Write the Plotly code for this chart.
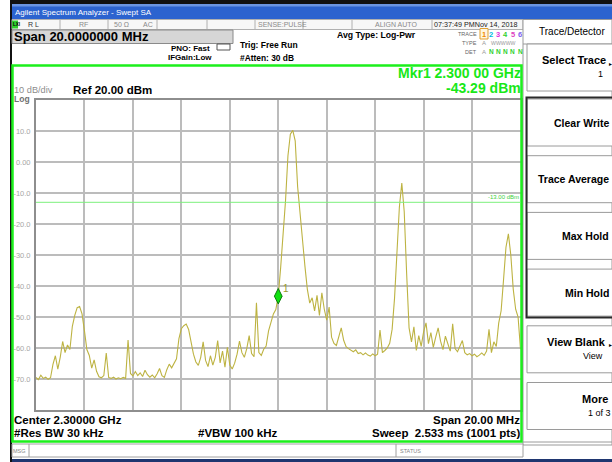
import numpy as np
import plotly.graph_objects as go

# ---- sweep settings ----
center_ghz = 2.300
span_ghz = 0.020
n_points = 201
ref_level = 20.0
db_per_div = 10.0
display_line = -13.0

# ---- trace 1 (dBm), one value per sweep point ----
trace_dbm = [
    -69.5, -70.2, -68.8, -69.8, -69.4, -70.1, -69.6, -65.3, -62.5, -66.8,
    -63.0, -57.9, -61.5, -59.0, -60.5, -53.0, -49.5, -47.0, -46.6, -49.0,
    -54.5, -60.5, -62.4, -66.5, -63.8, -67.5, -69.3, -69.6, -68.9, -61.6,
    -69.5, -69.8, -69.4, -70.0, -69.6, -69.9, -69.5, -69.8, -57.4, -68.2,
    -69.0, -67.6, -68.9, -68.0, -69.2, -67.2, -68.6, -69.4, -68.7, -69.6,
    -68.3, -66.6, -68.9, -69.5, -67.0, -65.2, -66.4, -65.0, -63.5, -57.0,
    -53.8, -52.8, -52.3, -54.0, -58.0, -62.0, -64.5, -65.6, -63.0, -58.0,
    -64.0, -66.0, -62.5, -65.5, -63.0, -57.6, -64.8, -61.0, -66.2, -59.8,
    -65.5, -66.8, -64.9, -62.0, -57.8, -61.5, -63.0, -60.2, -56.0, -61.8,
    -62.8, -45.4, -61.5, -62.4, -60.4, -59.4, -54.5, -51.5, -49.0, -47.6,
    -43.29, -34.0, -23.0, -12.5, 2.0, 9.0, 10.2, 6.8, -8.0, -17.0,
    -26.0, -33.5, -41.0, -45.5, -43.8, -48.0, -43.0, -49.5, -42.2, -47.5,
    -51.0, -46.8, -56.5, -58.5, -59.2, -56.0, -53.5, -57.5, -59.6, -60.2,
    -60.8, -61.2, -60.6, -61.8, -61.5, -62.2, -61.6, -62.3, -62.6, -61.9,
    -62.5, -62.0, -54.2, -61.5, -60.8, -60.0, -58.5, -54.0, -44.0, -30.0,
    -14.5, -6.8, -16.0, -36.0, -53.5, -58.0, -53.2, -60.8, -56.0, -59.5,
    -54.8, -51.9, -58.6, -55.0, -59.8, -56.5, -53.5, -57.8, -60.5, -56.2,
    -59.0, -61.0, -52.2, -60.2, -61.2, -59.4, -57.6, -61.5, -62.2, -61.8,
    -62.5, -62.0, -62.8, -62.3, -61.6, -62.4, -61.0, -54.0, -61.5, -58.0,
    -59.5, -52.0, -48.0, -38.0, -27.5, -23.2, -30.0, -41.0, -47.5, -50.0,
    -60.4,
]

# ---- marker 1 ----
mkr_freq_ghz = 2.300
mkr_dbm = -43.29

# ---- y-axis labels ----
y_tick_vals = [10, 0, -10, -20, -30, -40, -50, -60, -70]
y_tick_text = ["10.0", "0.00", "-10.0", "-20.0", "-30.0", "-40.0", "-50.0", "-60.0", "-70.0"]

# ---- soft keys ----
softkeys = ["Select Trace", "Clear Write", "Trace Average", "Max Hold", "Min Hold", "View Blank", "More"]
softkey_sub = ["1", "", "", "", "", "View", "1 of 3"]

W, H = 612, 462
SANS = "Liberation Sans, Arial, sans-serif"

f_start = center_ghz - span_ghz / 2
f_stop = center_ghz + span_ghz / 2
freqs = f_start + np.arange(n_points) * (span_ghz / (n_points - 1))

# plot window in pixels
PL, PR, PT, PB = 36, 520.5, 100, 410


def px(x):
    return x / W


def py(y):
    return 1 - y / H


shapes = []
annotations = []


def rect(x0, y0, x1, y1, fill=None, line=None, lw=1, layer="below"):
    shapes.append(dict(type="rect", xref="paper", yref="paper",
                       x0=px(x0), x1=px(x1), y0=py(y0), y1=py(y1),
                       fillcolor=fill if fill else "rgba(0,0,0,0)",
                       line=dict(color=line if line else "rgba(0,0,0,0)", width=lw if line else 0),
                       layer=layer))


def hline(x0, x1, y, color, lw=1, layer="above"):
    shapes.append(dict(type="line", xref="paper", yref="paper", x0=px(x0), x1=px(x1),
                       y0=py(y), y1=py(y), line=dict(color=color, width=lw), layer=layer))


def vline(x, y0, y1, color, lw=1, layer="above"):
    shapes.append(dict(type="line", xref="paper", yref="paper", x0=px(x), x1=px(x),
                       y0=py(y0), y1=py(y1), line=dict(color=color, width=lw), layer=layer))


def txt(x, y, s, size, color="#000000", bold=False, anchor="left"):
    annotations.append(dict(xref="paper", yref="paper", x=px(x), y=py(y),
                            text=("<b>%s</b>" % s) if bold else s, showarrow=False,
                            xanchor=anchor, yanchor="middle", borderpad=0,
                            font=dict(size=size, color=color, family=SANS)))


# window chrome
rect(10, 0, 612, 4, fill="#111111")
rect(10, 0, 12, 462, fill="#111111")
rect(12, 4, 612, 19, fill="#2c63cf")
rect(12, 4, 612, 6.5, fill="#6b95e2")
txt(14, 12, "Agilent Spectrum Analyzer - Swept SA", 8, color="#ffffff")
rect(12, 459, 612, 462, fill="#1f3670")

# status row
rect(12, 19.5, 612, 29.5, fill="#f7f7f7", line="#b0b0b0", lw=1)
for xd in [60, 108, 157, 207, 255, 303, 352, 432, 523]:
    vline(xd, 19.5, 29.5, "#b0b0b0", 1, layer="below")
rect(12, 20.5, 18, 28.5, fill="#2fd02f")
txt(11.5, 24.5, "LXI", 4.5, color="#000000", bold=True)
txt(27, 24.5, "R L", 7, color="#333333")
txt(83, 24.5, "RF", 7, color="#8a8a8a", anchor="center")
txt(113, 24.5, "50 Ω", 7, color="#8a8a8a")
txt(142, 24.5, "AC", 7, color="#8a8a8a")
txt(257, 24.5, "SENSE:PULSE", 7, color="#8a8a8a")
txt(374, 24.5, "ALIGN AUTO", 7, color="#8a8a8a")
txt(433, 24.5, "07:37:49 PMNov 14, 2018", 7.2, color="#222222")

# span readout box
rect(12, 30, 233, 43.5, fill="#d6d6d6", line="#8a8a8a", lw=1)
txt(12.5, 36.5, "Span 20.0000000 MHz", 13, bold=True)

txt(211, 48, "PNO: Fast", 8, bold=True, anchor="right")
txt(213, 58, "IFGain:Low", 8, bold=True, anchor="right")
rect(217, 44, 230, 50, fill="#ffffff", line="#555555", lw=1)
txt(239, 45, "Trig: Free Run", 8.5, bold=True)
txt(238.5, 57.5, "#Atten: 30 dB", 8.4, bold=True)
txt(336, 35, "Avg Type: Log-Pwr", 8.7, bold=True)

# trace status block
txt(478, 34, "TRACE", 5.5, color="#666666", anchor="right")
txt(478, 43, "TYPE", 5.5, color="#666666", anchor="right")
txt(478, 52, "DET", 5.5, color="#666666", anchor="right")
rect(480, 28.5, 488, 39, fill="#fff6e0", line="#e0a030", lw=1)
trace_cols = ["#f08a00", "#00b8e0", "#e030e0", "#30d030", "#e040c0", "#8060f0"]
for k, c in enumerate(trace_cols):
    txt(484 + k * 7.2, 34, str(k + 1), 7.5, color=c, bold=True, anchor="center")
txt(484, 43, "A", 6, color="#999999", anchor="center")
txt(490, 43, "WWWWW", 5.2, color="#999999")
txt(484, 52, "A", 6, color="#999999", anchor="center")
for k in range(1, 6):
    txt(484 + k * 7.2, 52, "N", 6.5, color="#30d030", bold=True, anchor="center")

# right-hand soft key panel
rect(523, 19.5, 612, 445, fill="#ffffff", line="#9a9a9a", lw=1)
hline(523, 612, 44, "#9a9a9a", 1, layer="below")
txt(538, 32, "Trace/Detector", 10)
pitch = 56.7
for k, name in enumerate(softkeys):
    top = 44 + k * pitch if k == 0 else 99 + (k - 1) * pitch
    bot = top + 47
    rect(527, top, 616, bot, fill="#ffffff", line="#9a9a9a", lw=1)
    mid = (top + bot) / 2
    if softkey_sub[k]:
        if k in (0, 5):
            txt(607, mid - 7, name, 11, bold=True, anchor="right")
            txt(604, mid + 7, softkey_sub[k], 9, anchor="right")
            txt(608, mid - 4, "▸", 6)
        else:
            txt(609, mid - 7, name, 11, bold=True, anchor="right")
            txt(587, mid + 7, softkey_sub[k], 9)
    else:
        txt(610, mid, name, 10.5, bold=True, anchor="right")
rect(526.5, 97.5, 616, 317.5, line="#2a2a2a", lw=2, layer="above")
hline(523, 612, 442, "#9a9a9a", 1, layer="below")

# message row
rect(12, 444, 523, 457, fill="#ffffff", line="#a0a0a0", lw=1)
vline(29, 444, 457, "#a0a0a0", 1, layer="below")
vline(396, 444, 457, "#a0a0a0", 1, layer="below")
txt(12, 451, "MSG", 5.5, color="#888888")
txt(399, 451, "STATUS", 5.5, color="#888888")

# measurement window frame
rect(12.5, 65.5, 521.5, 441.5, line="#1cf01c", lw=2.5, layer="above")

# header readouts inside the frame
txt(522, 73, "Mkr1 2.300 00 GHz", 14, color="#18e818", bold=True, anchor="right")
txt(522, 87.5, "-43.29 dBm", 14, color="#18e818", bold=True, anchor="right")
txt(13, 89.5, "10 dB/div", 9.2, color="#8c8c8c")
txt(13, 99, "Log", 8.5, color="#707070", bold=True)
txt(71.5, 90, "Ref 20.00 dBm", 11.5, bold=True)

# footer readouts
txt(12.5, 419.5, "Center 2.30000 GHz", 11.5, bold=True)
txt(12.5, 433, "#Res BW 30 kHz", 11.5, bold=True)
txt(196.5, 433, "#VBW 100 kHz", 11.5, bold=True)
txt(521, 419.5, "Span 20.00 MHz", 11.5, bold=True, anchor="right")
txt(521, 433, "Sweep  2.533 ms (1001 pts)", 11.5, bold=True, anchor="right")

# display line and its label
shapes.append(dict(type="line", xref="x", yref="y", x0=f_start, x1=f_stop,
                   y0=display_line, y1=display_line,
                   line=dict(color="#7cf07c", width=1), layer="above"))
annotations.append(dict(xref="x", yref="y", x=f_stop, y=display_line, yshift=5,
                        text="%.2f dBm" % display_line, showarrow=False,
                        xanchor="right", yanchor="middle",
                        font=dict(size=6, color="#40d040", family=SANS)))

# marker number
annotations.append(dict(xref="x", yref="y", x=mkr_freq_ghz, y=mkr_dbm, xshift=8, yshift=8,
                        text="1", showarrow=False, xanchor="center", yanchor="middle",
                        font=dict(size=10, color="#9a9a2a", family=SANS)))

fig = go.Figure()
fig.add_trace(go.Scatter(x=freqs, y=trace_dbm, mode="lines",
                         line=dict(color="#bdb342", width=1.1), hoverinfo="skip",
                         showlegend=False))
fig.add_trace(go.Scatter(x=[mkr_freq_ghz], y=[mkr_dbm], mode="markers",
                         marker=dict(symbol="diamond-tall", size=11, color="#10e010",
                                     line=dict(color="#0a7a0a", width=1)),
                         hoverinfo="skip", showlegend=False))

y_bottom = ref_level - 10 * db_per_div
fig.update_layout(
    width=W, height=H, margin=dict(l=0, r=0, t=0, b=0),
    paper_bgcolor="#ffffff", plot_bgcolor="#ffffff",
    template="none", showlegend=False,
    shapes=shapes, annotations=annotations,
    xaxis=dict(domain=[px(PL), px(PR)], range=[f_start, f_stop],
               tickmode="linear", tick0=f_start, dtick=span_ghz / 10,
               showticklabels=False, ticks="", showgrid=True,
               gridcolor="#bcbcbc", gridwidth=1.5, zeroline=False,
               showline=True, linecolor="#8e8e8e", linewidth=2, mirror=True,
               automargin=False, fixedrange=True),
    yaxis=dict(domain=[py(PB), py(PT)], range=[y_bottom, ref_level],
               tickmode="array", tickvals=y_tick_vals, ticktext=y_tick_text,
               tickfont=dict(size=7.5, color="#a6a6a6", family=SANS),
               ticks="", ticklabelstandoff=2, showgrid=True,
               gridcolor="#bcbcbc", gridwidth=1.5, zeroline=False,
               showline=True, linecolor="#8e8e8e", linewidth=2, mirror=True,
               automargin=False, fixedrange=True),
)

fig.write_html("out.html")
